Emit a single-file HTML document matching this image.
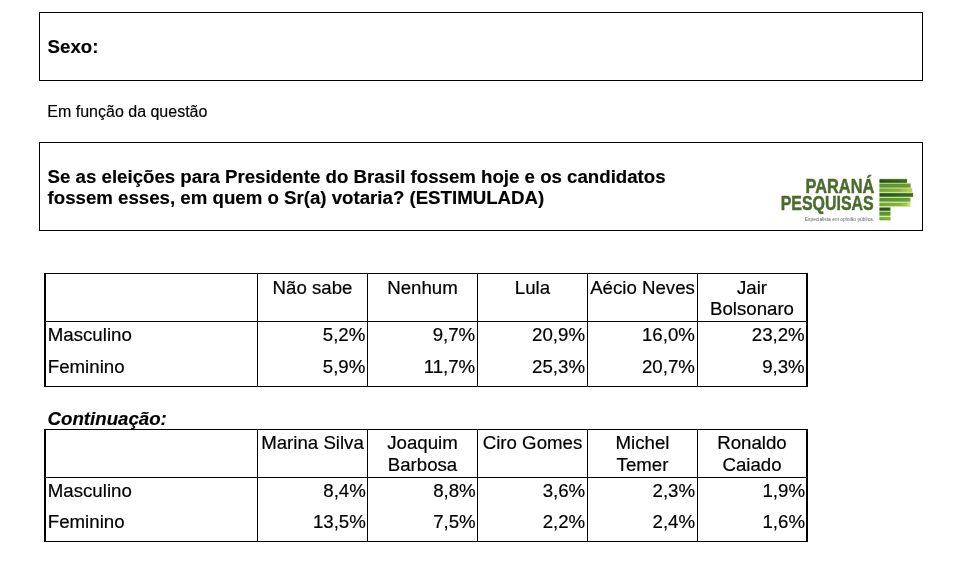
<!DOCTYPE html>
<html lang="pt-BR">
<head>
<meta charset="utf-8">
<title>Sexo</title>
<style>
  html, body { margin: 0; padding: 0; background: #fff; }
  body {
    width: 965px; height: 586px; position: relative; overflow: hidden;
    font-family: "Liberation Sans", sans-serif; color: #000;
    will-change: transform;
  }
  .abs { position: absolute; white-space: nowrap; -webkit-text-stroke: 0.15px #000; }
  .box { position: absolute; box-sizing: border-box; border: 1px solid #000; }
  .t { line-height: 1; }
  .b { font-weight: bold; }

  /* table grid lines */
  .ln { position: absolute; background: #000; }

  .cell { position: absolute; font-size: 18.67px; line-height: 21px; white-space: nowrap; -webkit-text-stroke: 0.2px #000; }
  .hd { text-align: center; }
  .num { text-align: right; }
</style>
</head>
<body>

<!-- Box 1 -->
<div class="box" style="left:39px; top:12px; width:884px; height:69px;"></div>
<div class="abs t b" id="sexo" style="left:47.6px; top:37.8px; font-size:18.67px;">Sexo:</div>

<!-- sub text -->
<div class="abs t" id="emf" style="left:47.3px; top:104px; font-size:16px;">Em função da questão</div>

<!-- Box 2 -->
<div class="box" style="left:39px; top:142px; width:884px; height:89px;"></div>
<div class="abs b" id="q" style="left:47.6px; top:166px; font-size:18.67px; line-height:21px;">Se as eleições para Presidente do Brasil fossem hoje e os candidatos<br>fossem esses, em quem o Sr(a) votaria? (ESTIMULADA)</div>


<!-- Logo -->
<svg id="logo" style="position:absolute; left:775px; top:170px;" width="145" height="56" viewBox="775 170 145 56">
  <defs>
    <linearGradient id="gd" gradientUnits="userSpaceOnUse" x1="879.5" x2="913" y1="0" y2="0"><stop offset="0" stop-color="#24521a"/><stop offset="1" stop-color="#3f6a26"/></linearGradient>
    <linearGradient id="gm" gradientUnits="userSpaceOnUse" x1="879.5" x2="911" y1="0" y2="0"><stop offset="0" stop-color="#569430"/><stop offset="0.8" stop-color="#669a34"/><stop offset="1" stop-color="#7a9c3c"/></linearGradient>
    <linearGradient id="gl" gradientUnits="userSpaceOnUse" x1="879.5" x2="912" y1="0" y2="0"><stop offset="0" stop-color="#74a238"/><stop offset="0.6" stop-color="#8eb23e"/><stop offset="1" stop-color="#c2d44a"/></linearGradient>
  </defs>
  <g font-family="Liberation Sans, sans-serif" font-weight="bold" fill="#4b6b2d" stroke="#4b6b2d" stroke-width="0.5">
    <text x="805.5" y="193.3" font-size="19.3" textLength="68.8" lengthAdjust="spacingAndGlyphs">PARANÁ</text>
    <text x="780.7" y="210.4" font-size="20" textLength="93" lengthAdjust="spacingAndGlyphs">PESQUISAS</text>
  </g>
  <text x="804.8" y="220.8" font-family="Liberation Sans, sans-serif" font-size="6" fill="#5d6474" textLength="69.4" lengthAdjust="spacingAndGlyphs">Especialista em opinião pública.</text>
  <!-- bars: light separators behind -->
  <g fill="#bfe08c">
    <rect x="879.5" y="178.6" width="27.6" height="4.8"/>
    <rect x="879.5" y="183.0" width="31.2" height="5.2"/>
    <rect x="879.5" y="187.8" width="32.8" height="5.0"/>
    <rect x="879.5" y="192.6" width="33.6" height="4.8"/>
    <rect x="879.5" y="197.2" width="31.0" height="5.0"/>
    <rect x="879.5" y="202.0" width="31.0" height="4.8"/>
    <rect x="879.5" y="207.0" width="11.0" height="4.4"/>
    <rect x="879.5" y="211.2" width="11.0" height="5.0"/>
    <rect x="879.5" y="216.4" width="11.0" height="4.2"/>
  </g>
  <rect x="879.5" y="179.2" width="27.4" height="3.6" fill="url(#gd)"/>
  <rect x="879.5" y="183.8" width="31.0" height="3.7" fill="url(#gm)"/>
  <rect x="879.5" y="188.6" width="32.6" height="3.2" fill="url(#gl)"/>
  <rect x="879.5" y="193.2" width="33.6" height="3.5" fill="url(#gd)"/>
  <rect x="879.5" y="198.0" width="30.8" height="3.5" fill="url(#gm)"/>
  <rect x="879.5" y="203.0" width="28.0" height="3.0" fill="url(#gl)"/>
  <rect x="879.5" y="207.6" width="10.9" height="3.1" fill="url(#gd)"/>
  <rect x="879.5" y="211.8" width="10.9" height="3.8" fill="url(#gm)"/>
  <rect x="879.5" y="217.2" width="10.9" height="2.9" fill="url(#gl)"/>
</svg>

<!-- Table 1 -->
<div id="t1">
  <div class="ln" style="left:44px; top:273px; width:764px; height:1px;"></div>
  <div class="ln" style="left:44px; top:321px; width:764px; height:1px;"></div>
  <div class="ln" style="left:44px; top:386px; width:764px; height:1px;"></div>
  <div class="ln" style="left:44px; top:273px; width:2px; height:114px;"></div>
  <div class="ln" style="left:806px; top:273px; width:2px; height:114px;"></div>
  <div class="ln" style="left:257px; top:273px; width:1px; height:114px;"></div>
  <div class="ln" style="left:367px; top:273px; width:1px; height:114px;"></div>
  <div class="ln" style="left:477px; top:273px; width:1px; height:114px;"></div>
  <div class="ln" style="left:587px; top:273px; width:1px; height:114px;"></div>
  <div class="ln" style="left:697px; top:273px; width:1px; height:114px;"></div>

  <div class="cell hd" style="left:258px; width:109px; top:277px;">Não sabe</div>
  <div class="cell hd" style="left:368px; width:109px; top:277px;">Nenhum</div>
  <div class="cell hd" style="left:478px; width:109px; top:277px;">Lula</div>
  <div class="cell hd" style="left:588px; width:109px; top:277px;">Aécio Neves</div>
  <div class="cell hd" style="left:698px; width:108px; top:277px;">Jair<br>Bolsonaro</div>

  <div class="cell" style="left:47.8px; top:324px;">Masculino</div>
  <div class="cell num" style="left:258px; width:107.3px; top:324px;">5,2%</div>
  <div class="cell num" style="left:368px; width:107.2px; top:324px;">9,7%</div>
  <div class="cell num" style="left:478px; width:107px; top:324px;">20,9%</div>
  <div class="cell num" style="left:588px; width:106.9px; top:324px;">16,0%</div>
  <div class="cell num" style="left:698px; width:106.7px; top:324px;">23,2%</div>

  <div class="cell" style="left:47.8px; top:356px;">Feminino</div>
  <div class="cell num" style="left:258px; width:107.3px; top:356px;">5,9%</div>
  <div class="cell num" style="left:368px; width:107.2px; top:356px;">11,7%</div>
  <div class="cell num" style="left:478px; width:107px; top:356px;">25,3%</div>
  <div class="cell num" style="left:588px; width:106.9px; top:356px;">20,7%</div>
  <div class="cell num" style="left:698px; width:106.7px; top:356px;">9,3%</div>
</div>

<!-- Continuação -->
<div class="abs t b" id="cont" style="left:47.6px; top:410.4px; font-size:18.67px; font-style:italic;">Continuação:</div>

<!-- Table 2 -->
<div id="t2">
  <div class="ln" style="left:44px; top:429px; width:764px; height:1px;"></div>
  <div class="ln" style="left:44px; top:477px; width:764px; height:1px;"></div>
  <div class="ln" style="left:44px; top:541px; width:764px; height:1px;"></div>
  <div class="ln" style="left:44px; top:429px; width:2px; height:113px;"></div>
  <div class="ln" style="left:806px; top:429px; width:2px; height:113px;"></div>
  <div class="ln" style="left:257px; top:429px; width:1px; height:113px;"></div>
  <div class="ln" style="left:367px; top:429px; width:1px; height:113px;"></div>
  <div class="ln" style="left:477px; top:429px; width:1px; height:113px;"></div>
  <div class="ln" style="left:587px; top:429px; width:1px; height:113px;"></div>
  <div class="ln" style="left:697px; top:429px; width:1px; height:113px;"></div>

  <div class="cell hd" style="line-height:21.7px; left:258px; width:109px; top:432px;">Marina Silva</div>
  <div class="cell hd" style="line-height:21.7px; left:368px; width:109px; top:432px;">Joaquim<br>Barbosa</div>
  <div class="cell hd" style="line-height:21.7px; left:478px; width:109px; top:432px;">Ciro Gomes</div>
  <div class="cell hd" style="line-height:21.7px; left:588px; width:109px; top:432px;">Michel<br>Temer</div>
  <div class="cell hd" style="line-height:21.7px; left:698px; width:108px; top:432px;">Ronaldo<br>Caiado</div>

  <div class="cell" style="left:47.8px; top:480px;">Masculino</div>
  <div class="cell num" style="left:258px; width:107.8px; top:480px;">8,4%</div>
  <div class="cell num" style="left:368px; width:107.7px; top:480px;">8,8%</div>
  <div class="cell num" style="left:478px; width:107.2px; top:480px;">3,6%</div>
  <div class="cell num" style="left:588px; width:107.1px; top:480px;">2,3%</div>
  <div class="cell num" style="left:698px; width:107.0px; top:480px;">1,9%</div>

  <div class="cell" style="left:47.8px; top:511px;">Feminino</div>
  <div class="cell num" style="left:258px; width:107.8px; top:511px;">13,5%</div>
  <div class="cell num" style="left:368px; width:107.7px; top:511px;">7,5%</div>
  <div class="cell num" style="left:478px; width:107.2px; top:511px;">2,2%</div>
  <div class="cell num" style="left:588px; width:107.1px; top:511px;">2,4%</div>
  <div class="cell num" style="left:698px; width:107.0px; top:511px;">1,6%</div>
</div>

</body>
</html>
